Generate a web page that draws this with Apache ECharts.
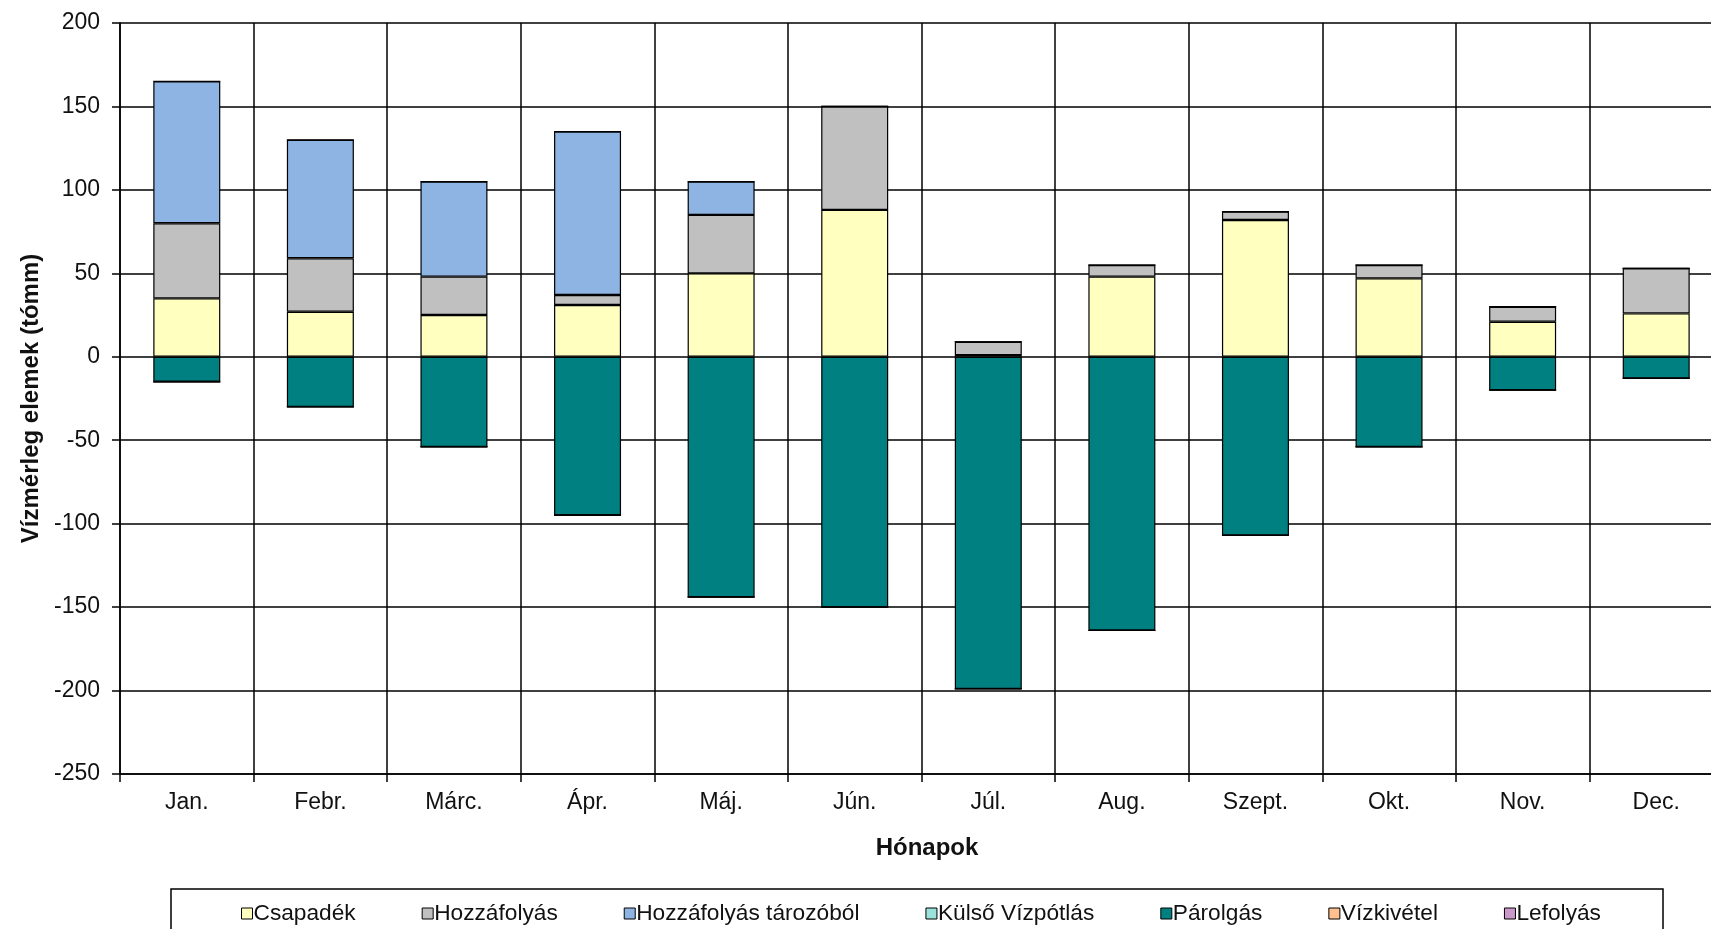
<!DOCTYPE html>
<html>
<head>
<meta charset="utf-8">
<title>Vízmérleg elemek</title>
<script src="https://cdn.jsdelivr.net/npm/echarts@6/dist/echarts.min.js"></script>
<style>
  html, body { margin: 0; padding: 0; background: #fff; overflow: hidden; }
  #chart { width: 1730px; height: 929px; }
</style>
</head>
<body>
<div id="chart"></div>
<script>
// Monthly water balance components (mm), stacked per month
const months = ['Jan.', 'Febr.', 'Márc.', 'Ápr.', 'Máj.', 'Jún.', 'Júl.', 'Aug.', 'Szept.', 'Okt.', 'Nov.', 'Dec.'];
const csapadek      = [35, 27, 25, 31, 50, 88, 1, 48, 82, 47, 21, 26];
const hozzafolyas   = [45, 32, 23, 6, 35, 62, 8, 7, 5, 8, 9, 27];
const tarozobol     = [85, 71, 57, 98, 20, 0, 0, 0, 0, 0, 0, 0];
const kulsoVizpotl  = [0, 0, 0, 0, 0, 0, 0, 0, 0, 0, 0, 0];
const parolgas      = [-15, -30, -54, -95, -144, -150, -199, -164, -107, -54, -20, -13];
const vizkivetel    = [0, 0, 0, 0, 0, 0, 0, 0, 0, 0, 0, 0];
const lefolyas      = [0, 0, 0, 0, 0, 0, 0, 0, 0, 0, 0, 0];

const yMin = -250, yMax = 200, yStep = 50;

const seriesDefs = [
  { name: 'Csapadék', data: csapadek, color: '#FFFFC0' },
  { name: 'Hozzáfolyás', data: hozzafolyas, color: '#C0C0C0' },
  { name: 'Hozzáfolyás tározóból', data: tarozobol, color: '#8EB4E3' },
  { name: 'Külső Vízpótlás', data: kulsoVizpotl, color: '#9BE2DD' },
  { name: 'Párolgás', data: parolgas, color: '#008080' },
  { name: 'Vízkivétel', data: vizkivetel, color: '#FFBF8E' },
  { name: 'Lefolyás', data: lefolyas, color: '#CC99CC' }
];

const FONT = '"Liberation Sans", Arial, sans-serif';
const chart = echarts.init(document.getElementById('chart'), null, { renderer: 'canvas' });

chart.setOption({
  animation: false,
  backgroundColor: '#ffffff',
  textStyle: { fontFamily: FONT },
  // the plot runs a little past the right edge of the page
  grid: { left: 120, top: 23, width: 1603, height: 751, containLabel: false },
  graphic: [{
    type: 'rect',
    shape: { x: 171, y: 889, width: 1492, height: 60 },
    style: { fill: 'none', stroke: '#000', lineWidth: 1.5 },
    z: 0
  }],
  legend: {
    left: 236,
    top: 897,
    itemWidth: 11,
    itemHeight: 11,
    itemGap: 66,
    icon: 'rect',
    itemStyle: { borderColor: '#000', borderWidth: 1 },
    textStyle: { fontFamily: FONT, fontSize: 22.7, color: '#111', padding: [0, 0, 0, -4] },
    data: seriesDefs.map(s => s.name)
  },
  xAxis: {
    type: 'category',
    data: months,
    boundaryGap: true,
    name: 'Hónapok',
    nameLocation: 'middle',
    nameGap: 62,
    nameTextStyle: { fontFamily: FONT, fontSize: 24, fontWeight: 'bold', color: '#111', padding: [0, 0, 0, 11] },
    axisLine: { show: true, onZero: false, lineStyle: { color: '#000', width: 1.5 } },
    axisTick: { show: true, inside: false, length: 8, alignWithLabel: false, lineStyle: { color: '#000', width: 1.5 } },
    axisLabel: { fontFamily: FONT, fontSize: 23, color: '#111', margin: 17 },
    splitLine: { show: true, lineStyle: { color: '#000', width: 1.5 } }
  },
  yAxis: {
    type: 'value',
    min: yMin,
    max: yMax,
    interval: yStep,
    name: 'Vízmérleg elemek (tómm)',
    nameLocation: 'middle',
    nameGap: 77,
    nameRotate: 90,
    nameTextStyle: { fontFamily: FONT, fontSize: 24, fontWeight: 'bold', color: '#111' },
    axisLine: { show: true, lineStyle: { color: '#000', width: 1.5 } },
    axisTick: { show: true, inside: false, length: 8, lineStyle: { color: '#000', width: 1.5 } },
    axisLabel: { fontFamily: FONT, fontSize: 23, color: '#111', margin: 20 },
    splitLine: { show: true, lineStyle: { color: '#000', width: 1.5 } }
  },
  series: seriesDefs.map(s => ({
    name: s.name,
    type: 'bar',
    stack: 'balance',
    stackStrategy: 'samesign',
    barWidth: 67,
    data: s.data,
    itemStyle: { color: s.color, borderColor: '#000', borderWidth: 1.2 },
    emphasis: { disabled: true }
  }))
});
</script>
</body>
</html>
